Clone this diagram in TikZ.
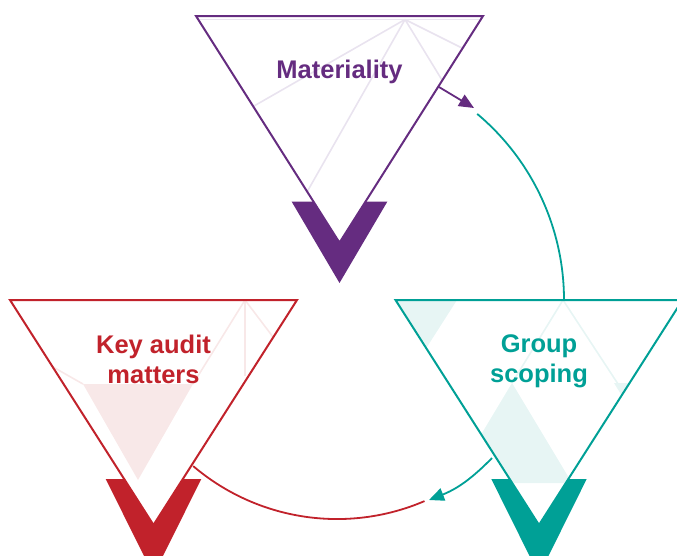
\documentclass[tikz,border=0pt]{standalone}
\usepackage{fontspec}
\setmainfont{Liberation Sans}
\usetikzlibrary{arrows.meta}
\definecolor{kpurple}{HTML}{652C80}
\definecolor{kpurplelight}{HTML}{E9E3EF}
\definecolor{kred}{HTML}{C1222B}
\definecolor{kredlight}{HTML}{F8E8E8}
\definecolor{kteal}{HTML}{00A096}
\definecolor{ktealight}{HTML}{E7F5F4}
\tikzset{
  triOutline/.style={draw=#1, line width=2pt, line join=miter},
  chevronFill/.style={fill=#1, draw=none},
  fanLine/.style={draw=#1, line width=1.6pt},
  tagText/.style={font=\fontsize{25.5}{30}\selectfont\bfseries, align=center, text=#1, inner sep=0pt},
  linkLine/.style={draw=#1, line width=1.8pt},
  headTip/.style={-{Triangle[length=15pt,width=13pt]}}
}
\begin{document}
\begin{tikzpicture}[x=1pt,y=-1pt]
\useasboundingbox (0,0) rectangle (677,555);
\clip (0,0) rectangle (677,555);

% ---------- Materiality (top) ----------
\coordinate (mF) at (405,19.5);
\draw[fanLine=kpurplelight] (197,19.5) -- (481,19.5);
\draw[fanLine=kpurplelight] (mF) -- (254,106);
\draw[fanLine=kpurplelight] (mF) -- (307,192);
\draw[fanLine=kpurplelight] (mF) -- (442,80);
\draw[fanLine=kpurplelight] (mF) -- (462,48);
\draw[triOutline=kpurple] (196,16) -- (483,16) -- (339.5,242.7) -- cycle;
\fill[chevronFill=kpurple] (291.7,201.7) -- (313,201.7) -- (339.5,242.7) -- (366,201.7)
  -- (387.3,201.7) -- (339.5,283) -- cycle;
\node[tagText=kpurple, anchor=base] (mat) at (339.5,78) {Materiality};

% ---------- Key audit matters (left) ----------
\fill[kredlight] (83,384) -- (193,384) -- (138,480) -- cycle;
\coordinate (kF) at (245,300);
\draw[fanLine=kredlight] (kF) -- (245,376);
\draw[fanLine=kredlight] (kF) -- (273,337);
\draw[fanLine=kredlight] (kF) -- (193,384);
\draw[fanLine=kredlight] (53,367) -- (83,384);
\draw[triOutline=kred] (10,300) -- (297,300) -- (153.5,525) -- cycle;
\fill[chevronFill=kred] (105.7,479) -- (124.2,479) -- (153.5,525) -- (182.8,479)
  -- (201.3,479) -- (153.5,575) -- cycle;
% anchor=base sits on the baseline of the last line
\node[tagText=kred, anchor=base] (kam) at (153.5,383) {Key audit\\matters};

% ---------- Group scoping (right) ----------
\begin{scope}
  \clip (395.5,300) -- (682.5,300) -- (539,525) -- cycle;
  \fill[ktealight] (395.5,300) -- (457,300) -- (426.2,348.2) -- cycle;
  \fill[ktealight] (512,383) -- (572,483) -- (452,483) -- cycle;
  \fill[ktealight] (614,383) -- (630,383) -- (622,396) -- cycle;
\end{scope}
\coordinate (gF) at (563,300);
\draw[fanLine=ktealight] (gF) -- (512,383);
\draw[fanLine=ktealight] (gF) -- (620,387);
\draw[triOutline=kteal] (395.5,300) -- (682.5,300) -- (539,525) -- cycle;
\fill[chevronFill=kteal] (491.3,479) -- (509.7,479) -- (539,525) -- (568.3,479)
  -- (586.7,479) -- (539,575) -- cycle;
\node[tagText=kteal, anchor=base] (grp) at (539,382.5) {Group\\scoping};

% ---------- connectors ----------
\coordinate (matOut) at (439,87);
\coordinate (matIn) at (474,108);
\draw[linkLine=kpurple, headTip] (matOut) -- (matIn);

\coordinate (grpTop) at (477.2,113.9);
\draw[linkLine=kteal] (grpTop) arc[start angle=50, end angle=0, radius=243pt];

\coordinate (grpOut) at (492,458);
\coordinate (kamIn) at (429,500);
\draw[linkLine=kteal, headTip] (grpOut) to[bend left=12] (kamIn);

\coordinate (kamOut) at (193.2,466.1);
\draw[linkLine=kred] (kamOut) arc[start angle=229.6, end angle=293.2, radius=222pt];
\end{tikzpicture}
\end{document}
